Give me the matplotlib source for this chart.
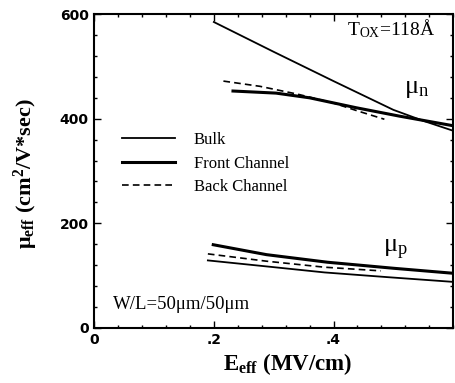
import matplotlib
matplotlib.use("Agg")
import matplotlib.pyplot as plt
from matplotlib.ticker import MultipleLocator, FixedLocator

serif = "Liberation Serif"
sans = "DejaVu Sans"
plt.rcParams["mathtext.fontset"] = "custom"
plt.rcParams["mathtext.rm"] = serif
plt.rcParams["mathtext.it"] = serif + ":italic"
plt.rcParams["mathtext.bf"] = serif + ":bold"

# ---- data ----
bulk_n_E = [0.20, 0.30, 0.40, 0.50, 0.55, 0.60]
bulk_n_mu = [585, 528, 472, 417, 396, 377]
front_n_E = [0.232, 0.304, 0.36, 0.438, 0.51, 0.598]
front_n_mu = [453, 449, 440, 421, 405, 387]
back_n_E = [0.216, 0.277, 0.34, 0.40, 0.44, 0.485]
back_n_mu = [472, 462, 447, 430, 415, 399]

front_p_E = [0.199, 0.288, 0.39, 0.50, 0.599]
front_p_mu = [159, 140, 125.5, 114, 104.5]
back_p_E = [0.19, 0.288, 0.385, 0.479]
back_p_mu = [141.5, 127.5, 116, 109]
bulk_p_E = [0.19, 0.288, 0.385, 0.49, 0.599]
bulk_p_mu = [129, 117.5, 106, 97, 88]

xticks = [0, 0.2, 0.4]
xticklabels = ["0", ".2", ".4"]
yticks = [0, 200, 400, 600]

fig = plt.figure(figsize=(4.55, 3.83), dpi=100)
ax = fig.add_axes([0.207, 0.144, 0.789, 0.819])

dash = (0, (4, 2.5))
ax.plot(bulk_n_E, bulk_n_mu, color="black", lw=1.3, label="Bulk")
ax.plot(front_n_E, front_n_mu, color="black", lw=2.2, label="Front Channel")
ax.plot(back_n_E, back_n_mu, color="black", lw=1.2, ls=dash, label="Back Channel")
ax.plot(bulk_p_E, bulk_p_mu, color="black", lw=1.3)
ax.plot(front_p_E, front_p_mu, color="black", lw=2.2)
ax.plot(back_p_E, back_p_mu, color="black", lw=1.2, ls=dash)

ax.set_xlim(0, 0.6)
ax.set_ylim(0, 600)
ax.xaxis.set_major_locator(FixedLocator(xticks))
ax.set_xticklabels(xticklabels)
ax.yaxis.set_major_locator(FixedLocator(yticks))
ax.xaxis.set_minor_locator(MultipleLocator(0.04))
ax.yaxis.set_minor_locator(MultipleLocator(40))
ax.tick_params(which="both", direction="in", top=True, right=True, width=1.0)
ax.tick_params(which="major", length=5, labelsize=10, pad=4)
ax.tick_params(which="minor", length=2.5)
for lab in ax.get_xticklabels() + ax.get_yticklabels():
    lab.set_family(sans)
    lab.set_fontweight("bold")
for sp in ax.spines.values():
    sp.set_linewidth(1.5)

ax.set_xlabel(r"E$_{\mathbf{eff}}$ (MV/cm)", fontsize=16.5, fontweight="bold", family=serif)
ax.xaxis.set_label_coords(0.54, -0.075, transform=ax.transAxes)
ax.xaxis.label.set_va("top")
ax.set_ylabel(r"$\mathbf{\mu}_{\mathbf{eff}}$ (cm$^{\mathbf{2}}$/V*sec)", fontsize=16, fontweight="bold",
              family=serif)
ax.yaxis.set_label_coords(-0.15, 0.49, transform=ax.transAxes)

ax.legend(loc="upper left", bbox_to_anchor=(0.059, 0.645), frameon=False,
          prop={"family": serif, "size": 12}, handlelength=3.2,
          handletextpad=1.1, labelspacing=0.45, borderaxespad=0)

ax.text(0.422, 560, r"T$_{\mathrm{OX}}$=118Å", family=serif, fontsize=14)
ax.text(0.518, 450, r"μ$_{\mathrm{n}}$", family=serif, fontsize=19)
ax.text(0.483, 145, r"μ$_{\mathrm{p}}$", family=serif, fontsize=19)
ax.text(0.032, 36, "W/L=50μm/50μm", family=serif, fontsize=13.5)

fig.savefig("out.png", dpi=100)
